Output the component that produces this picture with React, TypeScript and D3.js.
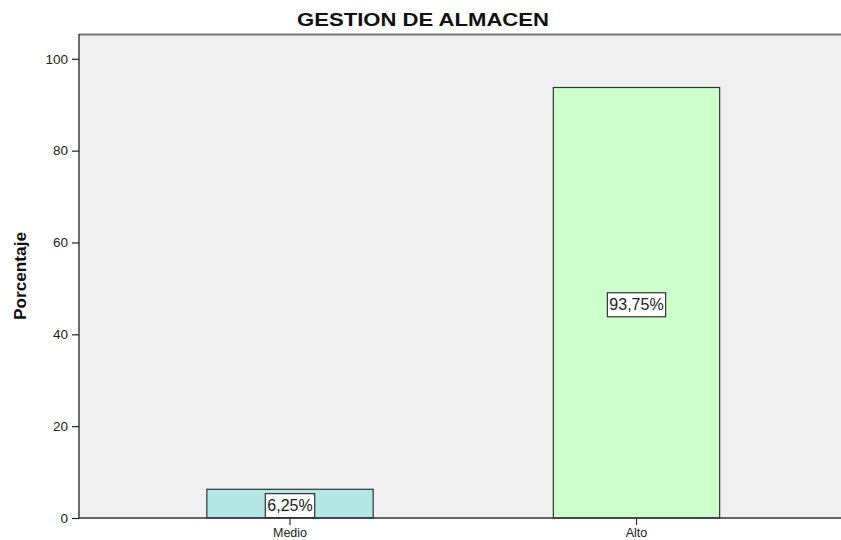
import React, { useEffect, useRef } from 'react'
import * as d3 from 'd3'

const categories = ['Medio', 'Alto']
const percentages = [6.25, 93.75]
const labels = ['6,25%', '93,75%']
const colors = ['#b4e6e6', '#ccffcc']
const yTicks = [0, 20, 40, 60, 80, 100]

const width = 841
const height = 540
const plot = { left: 79, top: 34, right: 841, bottom: 518 }
const font = 'Liberation Sans, Arial, sans-serif'

export default function App() {
  const ref = useRef<SVGSVGElement>(null)

  useEffect(() => {
    const svg = d3.select(ref.current)
    svg.selectAll('*').remove()

    const x = d3.scaleBand()
      .domain(categories)
      .range([116.75, 809.75])
      .paddingInner(0.52)
      .paddingOuter(0.26)
    const y = d3.scaleLinear()
      .domain([0, 105.4])
      .range([plot.bottom, plot.top])

    svg.append('rect')
      .attr('x', plot.left).attr('y', plot.top)
      .attr('width', plot.right - plot.left).attr('height', plot.bottom - plot.top)
      .attr('fill', '#f0f0f0')

    svg.append('line')
      .attr('x1', plot.left).attr('x2', plot.right)
      .attr('y1', plot.top + 0.5).attr('y2', plot.top + 0.5)
      .attr('stroke', '#777').attr('stroke-width', 1.8)

    const bars = svg.append('g')
    bars.selectAll('rect')
      .data(percentages)
      .enter()
      .append('rect')
      .attr('x', (d, i) => x(categories[i])!)
      .attr('y', d => y(d))
      .attr('width', x.bandwidth())
      .attr('height', d => plot.bottom - y(d))
      .attr('fill', (d, i) => colors[i])
      .attr('stroke', '#333')
      .attr('stroke-width', 1.2)

    const lab = svg.append('g')
      .attr('font-family', font)
      .attr('font-size', 16)
    percentages.forEach((d, i) => {
      const cx = x(categories[i])! + x.bandwidth() / 2
      const cy = (y(d) + plot.bottom) / 2 + 2
      const t = lab.append('text')
        .attr('x', cx).attr('y', cy)
        .attr('text-anchor', 'middle')
        .attr('dominant-baseline', 'central')
        .attr('fill', '#222')
        .text(labels[i])
      const bb = (t.node() as SVGTextElement).getBBox()
      lab.insert('rect', 'text')
        .attr('x', bb.x - 2).attr('y', cy - 12)
        .attr('width', bb.width + 4).attr('height', 24)
        .attr('fill', 'white')
        .attr('stroke', '#333')
        .attr('stroke-width', 1.2)
    })

    const yAxis = svg.append('g')
      .attr('transform', `translate(${plot.left}, 0)`)
      .call(d3.axisLeft(y).tickValues(yTicks).tickSize(7).tickPadding(4).tickSizeOuter(0))
    yAxis.select('.domain').attr('stroke', '#222').attr('stroke-width', 1.3)
      .attr('d', `M0,${plot.top}V${plot.bottom}`)
    yAxis.selectAll('.tick line').attr('stroke', '#222').attr('stroke-width', 1.2)
    yAxis.selectAll('.tick text')
      .attr('font-family', font)
      .attr('font-size', 13.5).attr('fill', '#222')

    const xAxis = svg.append('g')
      .attr('transform', `translate(0, ${plot.bottom})`)
      .call(d3.axisBottom(x).tickSize(7).tickPadding(3).tickSizeOuter(0))
    xAxis.select('.domain').attr('stroke', '#333').attr('stroke-width', 1.3)
      .attr('d', `M${plot.left},0H${plot.right}`)
    xAxis.selectAll('.tick line').attr('stroke', '#333').attr('stroke-width', 1.2)
    xAxis.selectAll('.tick text')
      .attr('font-family', font)
      .attr('font-size', 12.5).attr('fill', '#222')

    svg.append('text')
      .attr('x', 423).attr('y', 26)
      .attr('text-anchor', 'middle')
      .attr('font-family', font)
      .attr('font-weight', 'bold').attr('font-size', 18)
      .attr('textLength', 252).attr('lengthAdjust', 'spacingAndGlyphs')
      .attr('fill', '#111')
      .text('GESTION DE ALMACEN')

    svg.append('text')
      .attr('transform', `translate(26, 276) rotate(-90)`)
      .attr('text-anchor', 'middle')
      .attr('font-family', font)
      .attr('font-weight', 'bold').attr('font-size', 16.5)
      .attr('textLength', 88).attr('lengthAdjust', 'spacingAndGlyphs')
      .attr('fill', '#111')
      .text('Porcentaje')
  }, [])

  return (
    <svg ref={ref} width={width} height={height}
      style={{ position: 'absolute', left: 0, top: 0, background: 'white' }} />
  )
}
